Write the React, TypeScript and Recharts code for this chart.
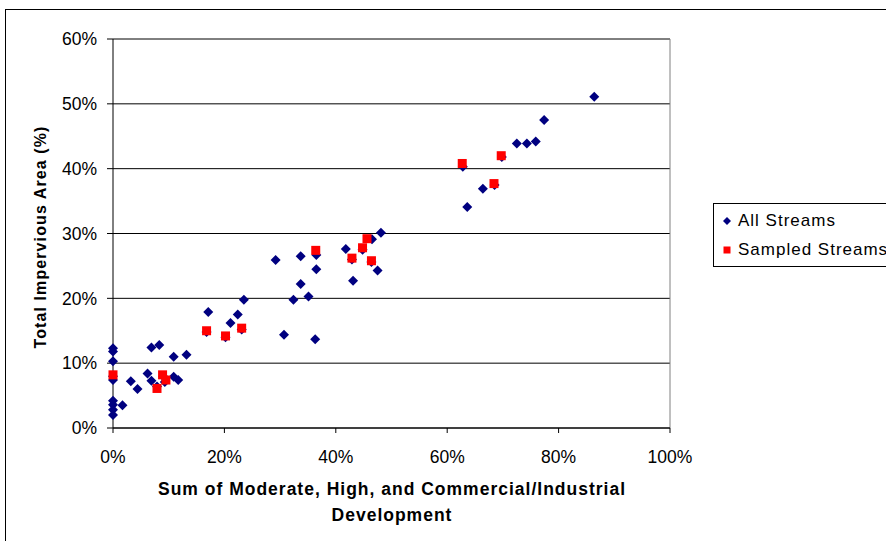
import React from "react";
import {
  ScatterChart,
  Scatter,
  XAxis,
  YAxis,
  CartesianGrid,
  ReferenceLine,
} from "recharts";

const allStreamsX = [
  0, 0, 0, 0, 0, 0, 0, 0, 0, 1.7, 3.2, 4.4, 6.2, 6.9, 6.9, 8.3, 7.9, 9.3, 9.0,
  10.9, 13.2, 10.9, 11.7, 16.8, 17.1, 20.2, 21.1, 22.4, 23.1, 23.5, 29.2, 30.7,
  32.4, 33.7, 33.7, 35.1, 36.3, 36.5, 36.5, 41.8, 42.9, 43.1, 44.8, 46.5, 46.4,
  47.5, 48.1, 62.8, 63.6, 66.4, 68.5, 69.8, 72.5, 74.3, 75.9, 77.4, 86.4,
];
const allStreamsY = [
  12.3, 11.8, 10.3, 8.0, 7.4, 4.2, 3.6, 2.8, 2.0, 3.5, 7.2, 6.0, 8.4, 7.3, 12.4,
  12.8, 6.4, 7.1, 8.0, 11.0, 11.3, 7.9, 7.4, 14.8, 17.9, 14.0, 16.2, 17.5, 15.2,
  19.8, 25.9, 14.4, 19.8, 26.5, 22.2, 20.3, 13.7, 26.7, 24.5, 27.6, 26.0, 22.7,
  27.5, 29.1, 25.6, 24.3, 30.1, 40.3, 34.1, 36.9, 37.5, 41.8, 43.9, 43.9, 44.2,
  47.5, 51.1,
];
const sampledX = [
  0, 7.9, 8.9, 9.5, 16.8, 20.2, 23.1, 36.4, 42.9, 44.8, 45.6, 46.4, 62.7, 68.4,
  69.7,
];
const sampledY = [
  8.2, 6.1, 8.2, 7.4, 15.0, 14.2, 15.4, 27.4, 26.2, 27.8, 29.2, 25.8, 40.8, 37.7,
  42.0,
];
const xTicks = [0, 20, 40, 60, 80, 100];
const yTicks = [0, 10, 20, 30, 40, 50, 60];

const allData = allStreamsX.map((x, i) => ({ x, y: allStreamsY[i] }));
const sampledData = sampledX.map((x, i) => ({ x, y: sampledY[i] }));

const FONT = "'Liberation Sans', Arial, sans-serif";

const Diamond = (props: any) => {
  const { cx, cy } = props;
  const r = 5;
  return (
    <polygon
      points={`${cx},${cy - r} ${cx + r},${cy} ${cx},${cy + r} ${cx - r},${cy}`}
      fill="#000080"
    />
  );
};

const Square = (props: any) => {
  const { cx, cy } = props;
  const h = 4.5;
  return <rect x={cx - h} y={cy - h} width={2 * h} height={2 * h} fill="#FF0000" />;
};

export default function App() {
  return (
    <div
      style={{
        position: "fixed",
        left: 0,
        top: 0,
        width: 886,
        height: 541,
        overflow: "hidden",
        background: "#fff",
        fontFamily: FONT,
      }}
    >
      <div
        style={{
          position: "absolute",
          left: 5,
          top: 9,
          width: 1000,
          height: 700,
          border: "1px solid #000",
        }}
      />
      <div style={{ position: "absolute", left: 0, top: 0 }}>
        <ScatterChart
          width={886}
          height={541}
          margin={{ top: 39, right: 216, left: 53, bottom: 83 }}
        >
          <CartesianGrid horizontal={true} vertical={false} stroke="#000" strokeWidth={1} />
          <XAxis
            type="number"
            dataKey="x"
            domain={[0, 100]}
            ticks={xTicks}
            tickFormatter={(v: number) => `${v}%`}
            height={30}
            stroke="#000"
            tickSize={5}
            tickMargin={18}
            tick={{ fill: "#000", fontSize: 17.5, fontFamily: FONT }}
          />
          <YAxis
            type="number"
            dataKey="y"
            domain={[0, 60]}
            ticks={yTicks}
            tickFormatter={(v: number) => `${v}%`}
            width={60}
            stroke="#000"
            tickSize={6}
            tickMargin={10}
            tick={{ fill: "#000", fontSize: 17.5, fontFamily: FONT }}
          />
          <ReferenceLine y={60} stroke="#808080" strokeWidth={1} />
          <ReferenceLine x={100} stroke="#808080" strokeWidth={1} />
          <Scatter
            name="All Streams"
            data={allData}
            shape={Diamond}
            isAnimationActive={false}
          />
          <Scatter
            name="Sampled Streams"
            data={sampledData}
            shape={Square}
            isAnimationActive={false}
          />
        </ScatterChart>
      </div>
      <div
        style={{
          position: "absolute",
          left: 41,
          top: 237,
          transform: "translate(-50%, -50%) rotate(-90deg)",
          whiteSpace: "nowrap",
          fontWeight: "bold",
          fontSize: 16,
          letterSpacing: 1.1,
          color: "#000",
        }}
      >
        Total Impervious Area (%)
      </div>
      <div
        style={{
          position: "absolute",
          left: 392,
          top: 476,
          transform: "translateX(-50%)",
          whiteSpace: "nowrap",
          fontWeight: "bold",
          fontSize: 17.5,
          letterSpacing: 1,
          lineHeight: "26px",
          textAlign: "center",
          color: "#000",
        }}
      >
        Sum of Moderate, High, and Commercial/Industrial
        <br />
        Development
      </div>
      <div
        style={{
          position: "absolute",
          left: 713,
          top: 203,
          width: 300,
          height: 62,
          border: "1px solid #000",
          background: "#fff",
          fontSize: 17,
          letterSpacing: 1,
          color: "#000",
        }}
      >
        <div style={{ position: "absolute", left: 8, top: 6, height: 22, display: "flex", alignItems: "center", whiteSpace: "nowrap" }}>
          <svg width={10} height={10} style={{ marginRight: 6 }}>
            <polygon points="5,1 9,5 5,9 1,5" fill="#000080" />
          </svg>
          All Streams
        </div>
        <div style={{ position: "absolute", left: 8, top: 35, height: 22, display: "flex", alignItems: "center", whiteSpace: "nowrap" }}>
          <svg width={10} height={10} style={{ marginRight: 6 }}>
            <rect x={1.5} y={1.5} width={7} height={7} fill="#FF0000" />
          </svg>
          Sampled Streams
        </div>
      </div>
    </div>
  );
}
